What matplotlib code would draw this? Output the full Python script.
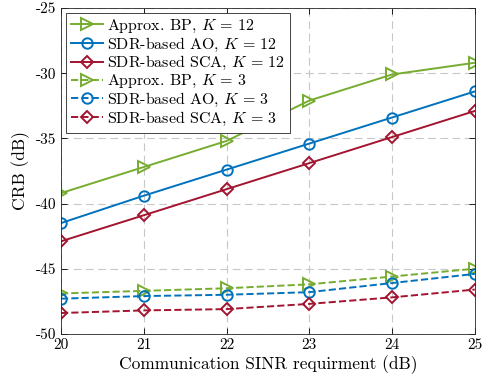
import matplotlib
matplotlib.use("Agg")
import matplotlib.pyplot as plt

plt.rcParams['font.family'] = 'serif'
plt.rcParams['font.serif'] = ['cmr10']
plt.rcParams['mathtext.fontset'] = 'cm'
plt.rcParams['axes.unicode_minus'] = False

sinr_db = [20, 21, 22, 23, 24, 25]

# CRB (dB), K = 12 users
bp_k12 = [-39.2, -37.2, -35.2, -32.1, -30.1, -29.2]
ao_k12 = [-41.5, -39.4, -37.4, -35.4, -33.4, -31.4]
sca_k12 = [-42.9, -40.9, -38.9, -36.9, -34.9, -32.9]

# CRB (dB), K = 3 users
bp_k3 = [-46.9, -46.7, -46.5, -46.2, -45.6, -45.0]
ao_k3 = [-47.3, -47.1, -47.0, -46.8, -46.1, -45.4]
sca_k3 = [-48.4, -48.2, -48.1, -47.7, -47.2, -46.6]

green = '#77AC30'
blue = '#0072BD'
red = '#A2142F'

fig = plt.figure(figsize=(4.84, 3.82), dpi=100)
ax = fig.add_axes([0.126, 0.126, 0.855, 0.853])

kw = dict(lw=1.4, mew=1.4, mfc='none')
ax.plot(sinr_db, bp_k12, '-', marker='>', ms=8.5, color=green, label=r'Approx. BP, $K\,=\,12$', **kw)
ax.plot(sinr_db, ao_k12, '-', marker='o', ms=7.5, color=blue, label=r'SDR-based AO, $K\,=\,12$', **kw)
ax.plot(sinr_db, sca_k12, '-', marker='D', ms=6.5, color=red, label=r'SDR-based SCA, $K\,=\,12$', **kw)
ax.plot(sinr_db, bp_k3, '--', marker='>', ms=8.5, color=green, label=r'Approx. BP, $K\,=\,3$', **kw)
ax.plot(sinr_db, ao_k3, '--', marker='o', ms=7.5, color=blue, label=r'SDR-based AO, $K\,=\,3$', **kw)
ax.plot(sinr_db, sca_k3, '--', marker='D', ms=6.5, color=red, label=r'SDR-based SCA, $K\,=\,3$', **kw)

ax.set_xlim(20, 25)
ax.set_ylim(-50, -25)
ax.set_xticks(sinr_db)
ax.set_xticklabels([str(v) for v in sinr_db])
yt = [-50, -45, -40, -35, -30, -25]
ax.set_yticks(yt)
ax.set_yticklabels([str(v) for v in yt])
ax.tick_params(direction='in', top=True, right=True, labelsize=11, length=4, width=0.6)
for s in ax.spines.values():
    s.set_linewidth(0.6)
    s.set_color('#262626')

ax.grid(True, ls=(0, (7, 4)), color='#c8c8c8', lw=0.8)
ax.set_xlabel('Communication SINR requirment (dB)', fontsize=12.5, labelpad=2)
ax.set_ylabel('CRB (dB)', fontsize=12.5, labelpad=4)

leg = ax.legend(loc='upper left', fontsize=11.5, fancybox=False, framealpha=1,
                edgecolor='#262626', handlelength=2.0, handletextpad=0.3,
                borderpad=0.3, labelspacing=0.05, borderaxespad=0.3)
leg.get_frame().set_linewidth(0.6)

fig.savefig('out.png', dpi=100)
